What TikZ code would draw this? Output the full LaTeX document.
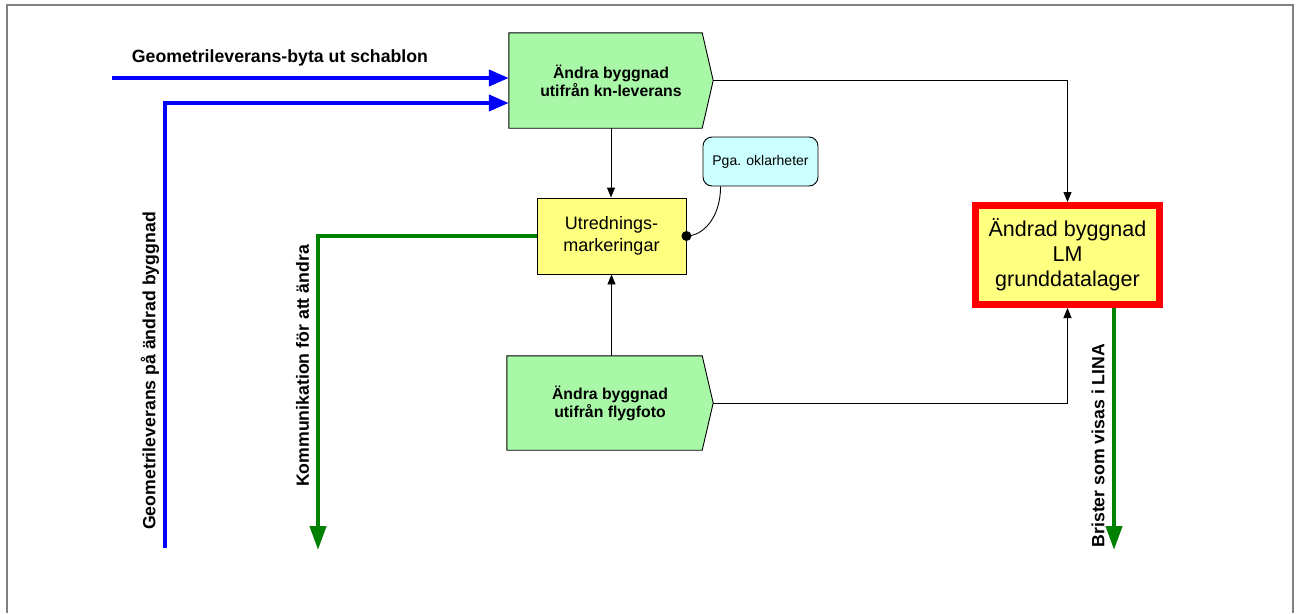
\documentclass[tikz,border=0pt]{standalone}
\usepackage{fontspec}
\setmainfont{Liberation Sans}
\usetikzlibrary{arrows.meta,calc,backgrounds}
\definecolor{pgreen}{RGB}{168,248,168}
\definecolor{pyellow}{RGB}{255,255,128}
\definecolor{pcyan}{RGB}{204,255,255}
\definecolor{framegray}{RGB}{128,128,128}
\definecolor{dgreen}{RGB}{0,128,0}
\tikzset{
  proc/.style={minimum width=204pt, minimum height=95pt, inner sep=0pt, align=center,
    font=\fontsize{15.8}{18}\selectfont\bfseries},
  pentagon/.style={fill=pgreen, draw=black, line width=0.9pt},
  utbox/.style={draw=black, line width=0.9pt, fill=pyellow, minimum width=149pt, minimum height=76pt,
    inner sep=0pt, align=center, font=\fontsize{18}{22}\selectfont},
  redbox/.style={draw=red, line width=7pt, fill=pyellow, minimum width=184pt, minimum height=99pt,
    inner sep=0pt, align=center, font=\fontsize{21.5}{25}\selectfont},
  callbox/.style={draw=black, line width=0.9pt, fill=pcyan, rounded corners=9pt, minimum width=115pt,
    minimum height=49pt, inner sep=0pt, font=\fontsize{14}{16}\selectfont},
  conn/.style={draw=black, line width=0.9pt, -{Triangle[length=10pt,width=8pt]}},
  barrow/.style={draw=blue, line width=4pt, -{Triangle[length=20pt,width=16pt]}},
  garrow/.style={draw=dgreen, line width=4pt, -{Triangle[length=24pt,width=16pt]}},
  lbl/.style={inner sep=0pt, font=\fontsize{17.7}{20}\selectfont\bfseries},
}
\begin{document}
\begin{tikzpicture}[x=1pt,y=-1pt]
\useasboundingbox (0,0) rectangle (1298,613);
% nodes
\node[proc] (top) at (611,80.5) {Ändra byggnad\\utifrån kn-leverans};
\node[proc, minimum width=206pt, minimum height=94pt] (bot) at (610,403) {Ändra byggnad\\utifrån flygfoto};
\node[utbox] (util) at (611.5,236) {Utrednings-\\markeringar};
\node[callbox] (call) at (760.5,161.5) {Pga. oklarheter};
\node[redbox] (red) at (1067.5,255) {Ändrad byggnad\\LM\\grunddatalager};
\begin{scope}[on background layer]
\fill[white] (0,0) rectangle (1298,613);
\draw[framegray, line width=1.5pt] (7,613) -- (7,5) -- (1293,5) -- (1293,613);
\draw[pentagon] (top.north west) -- ($(top.north east)+(-11,0)$) -- (top.east)
  -- ($(top.south east)+(-11,0)$) -- (top.south west) -- cycle;
\draw[pentagon] (bot.north west) -- ($(bot.north east)+(-11,0)$) -- (bot.east)
  -- ($(bot.south east)+(-11,0)$) -- (bot.south west) -- cycle;
\end{scope}
% black connectors
\draw[conn] (top.east) -- (top.east -| red.north) -- (red.north);
\draw[conn] (top.south) -- (top.south |- util.north);
\draw[conn] (bot.north -| util.south) -- (util.south);
\draw[conn] (bot.east) -- (bot.east -| red.south) -- (red.south);
% callout link
\draw[line width=0.9pt] ($(call.south west)+(18,0)$) .. controls +(0,32) and +(16,0) .. (util.east);
\fill (util.east) circle (5pt);
% blue inputs
\coordinate (b1) at (112,78);
\coordinate (b2) at (165,548);
\coordinate (b2c) at (165,103);
\draw[barrow] (b1) -- (b1 -| top.west);
\draw[barrow] (b2) -- (b2c) -- (b2c -| top.west);
% green outputs
\coordinate (gk) at (318,550);
\coordinate (gb) at (1114,550);
\draw[garrow] (util.west) -- (util.west -| gk) -- (gk);
\draw[garrow] (red.south -| gb) -- (gb);
% labels
\node[lbl] (l1) at (280,57.5) {Geometrileverans-byta ut schablon};
\node[lbl, rotate=90] (l2) at (150,371) {Geometrileverans på ändrad byggnad};
\node[lbl, rotate=90] (l3) at (302.5,366) {Kommunikation för att ändra};
\node[lbl, rotate=90] (l4) at (1098,445.5) {Brister som visas i LINA};
\end{tikzpicture}
\end{document}
